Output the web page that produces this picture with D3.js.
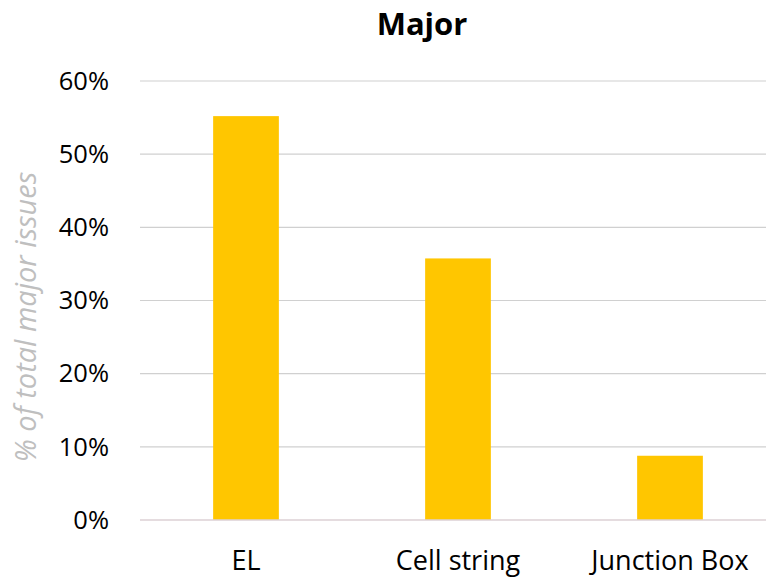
<!DOCTYPE html>
<html>
<head>
<meta charset="utf-8">
<script src="https://cdn.jsdelivr.net/npm/d3@7"></script>
<style>
  html, body { margin: 0; padding: 0; background: #fff; }
  svg { display: block; }
  text { font-family: "Open Sans", "Liberation Sans", sans-serif; }
</style>
</head>
<body>
<svg id="chart" width="766" height="578"></svg>
<script>
// Share of total major issues by category
const categories = ["EL", "Cell string", "Junction Box"];
const shares = [0.552, 0.3575, 0.0878];
const yTicks = [0, 0.1, 0.2, 0.3, 0.4, 0.5, 0.6];
const chartTitle = "Major";
const yTitle = "% of total major issues";

const svg = d3.select("#chart");
const W = 766, H = 578;
const m = { left: 140, right: -10, top: 81, bottom: 58 };

const x = d3.scaleBand()
  .domain(categories)
  .range([m.left, W - m.right])
  .paddingInner(0.69)
  .paddingOuter(0.345);

const y = d3.scaleLinear()
  .domain([0, 0.6])
  .range([H - m.bottom, m.top]);

// horizontal gridlines
svg.append("g")
  .selectAll("line")
  .data(yTicks.filter(d => d > 0))
  .join("line")
  .attr("x1", m.left).attr("x2", W)
  .attr("y1", d => y(d)).attr("y2", d => y(d))
  .attr("stroke", "#d0d0d0").attr("stroke-width", 1.2);

// y tick labels
const yAxis = d3.axisLeft(y).tickValues(yTicks).tickFormat(d3.format(".0%")).tickSize(0).tickPadding(0);
const gy = svg.append("g").attr("transform", `translate(${m.left - 31},0)`).call(yAxis);
gy.select(".domain").remove();
gy.selectAll("text")
  .attr("font-size", 25.5).attr("fill", "#000")
  .style("font-family", '"Open Sans", sans-serif');

// bars
svg.append("g")
  .selectAll("rect")
  .data(categories.map((c, i) => ({ c, v: shares[i] })))
  .join("rect")
  .attr("x", d => x(d.c))
  .attr("width", x.bandwidth())
  .attr("y", d => y(d.v))
  .attr("height", d => y(0) - y(d.v))
  .attr("fill", "#FFC600");

// baseline
svg.append("line")
  .attr("x1", m.left).attr("x2", W)
  .attr("y1", y(0)).attr("y2", y(0))
  .attr("stroke", "#dcd0d4").attr("stroke-width", 1.5);

// category labels
const xAxis = d3.axisBottom(x).tickSize(0).tickPadding(0);
const gx = svg.append("g").attr("transform", `translate(0,${y(0)})`).call(xAxis);
gx.select(".domain").remove();
gx.selectAll("text")
  .attr("y", 50).attr("dy", 0)
  .attr("font-size", 27).attr("fill", "#000")
  .style("font-family", '"Open Sans", sans-serif');

// title
svg.append("text")
  .attr("x", 422).attr("y", 35)
  .attr("text-anchor", "middle")
  .attr("font-size", 31).attr("font-weight", "bold")
  .attr("fill", "#000")
  .text(chartTitle);

// y axis title
svg.append("text")
  .attr("transform", `translate(36,317) rotate(-90)`)
  .attr("text-anchor", "middle")
  .attr("font-size", 29).attr("font-style", "italic")
  .attr("fill", "#bfbfbf")
  .text(yTitle);
</script>
</body>
</html>
